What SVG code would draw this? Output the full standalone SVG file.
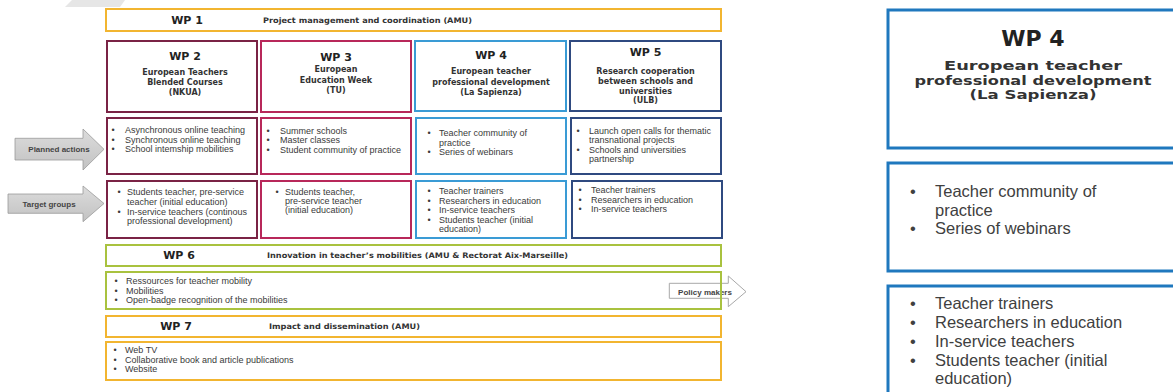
<svg xmlns="http://www.w3.org/2000/svg" width="1173" height="392" viewBox="0 0 1173 392">
<style>
.bx{fill:#fff;stroke-width:2}
.or{stroke:#F2B530}.mr{stroke:#7A2345}.cr{stroke:#B8285A}.bl{stroke:#3A9BD5}.nv{stroke:#2F4A80}.gr{stroke:#A9C23F}
.wp{font-family:"DejaVu Sans",Verdana,sans-serif;font-weight:bold;font-size:11px;fill:#222;text-anchor:middle}
.hd{font-family:"DejaVu Sans",Verdana,sans-serif;font-weight:bold;font-size:8px;fill:#333;text-anchor:middle}
.tt{font-family:"DejaVu Sans",Verdana,sans-serif;font-weight:bold;font-size:7.7px;fill:#333}
.li{font-family:"Liberation Sans",Arial,sans-serif;font-size:9px;fill:#3a3a3a}
.bu{text-anchor:middle}
.al{font-family:"Liberation Sans",Arial,sans-serif;font-weight:bold;font-size:8px;fill:#444;text-anchor:middle}
.rb{fill:#fff;stroke:#1F78BE;stroke-width:3}
.rwp{font-family:"DejaVu Sans",Verdana,sans-serif;font-weight:bold;font-size:22px;fill:#222;text-anchor:middle}
.rhd{font-family:"DejaVu Sans",Verdana,sans-serif;font-weight:bold;font-size:12.5px;fill:#333;text-anchor:middle}
.rli{font-family:"Liberation Sans",Arial,sans-serif;font-size:16.5px;fill:#404040}
</style>
<defs>
<linearGradient id="ga" x1="0" y1="0" x2="0" y2="1">
<stop offset="0" stop-color="#DCDCDC"/><stop offset="1" stop-color="#C2C2C2"/>
</linearGradient>
</defs>
<rect width="1173" height="392" fill="#fff"/>
<polygon points="72,0 125,0 120,7 65,7" fill="#E6E6E6"/>

<g id="wp1">
<rect class="bx or" x="106" y="9" width="615" height="22"/>
<text class="wp" x="187" y="24">WP 1</text>
<text class="tt" x="263" y="23" textLength="209" lengthAdjust="spacingAndGlyphs">Project management and coordination (AMU)</text>
</g>

<g id="wp2">
<rect class="bx mr" x="107" y="41" width="150" height="71"/>
<text class="wp" x="185" y="60">WP 2</text>
<text class="hd" x="185" y="74.5">European Teachers</text>
<text class="hd" x="185" y="85">Blended Courses</text>
<text class="hd" x="185" y="95">(NKUA)</text>
</g>
<g id="wp3">
<rect class="bx cr" x="261" y="41" width="150" height="71"/>
<text class="wp" x="336" y="61">WP 3</text>
<text class="hd" x="336" y="72">European</text>
<text class="hd" x="336" y="83">Education Week</text>
<text class="hd" x="336" y="92.5">(TU)</text>
</g>
<g id="wp4">
<rect class="bx bl" x="415" y="41" width="151" height="70"/>
<text class="wp" x="491" y="59">WP 4</text>
<text class="hd" x="491" y="74">European teacher</text>
<text class="hd" x="491" y="84.5">professional development</text>
<text class="hd" x="491" y="94.5">(La Sapienza)</text>
</g>
<g id="wp5">
<rect class="bx nv" x="570" y="41" width="151" height="70"/>
<text class="wp" x="645.5" y="56">WP 5</text>
<text class="hd" x="645.5" y="74">Research cooperation</text>
<text class="hd" x="645.5" y="84">between schools and</text>
<text class="hd" x="645.5" y="93.5">universities</text>
<text class="hd" x="645.5" y="102.5">(ULB)</text>
</g>

<g id="planned-actions">
<polygon points="15,138.3 83,138.3 83,129 104,149.3 83,170 83,160 15,160" fill="url(#ga)" stroke="#9A9A9A" stroke-width="0.8"/>
<text class="al" x="59" y="152">Planned actions</text>
</g>
<g id="target-groups">
<polygon points="8,194 83,194 83,186 104,203.5 83,221.7 83,213.3 8,213.3" fill="url(#ga)" stroke="#9A9A9A" stroke-width="0.8"/>
<text class="al" x="49" y="206.5">Target groups</text>
</g>

<g id="wp2-actions">
<rect class="bx mr" x="107" y="118" width="150" height="56"/>
<text class="li"><tspan class="bu" x="113" y="133">•</tspan><tspan x="125" y="133">Asynchronous online teaching</tspan>
<tspan class="bu" x="113" y="142.5">•</tspan><tspan x="125" y="142.5">Synchronous online teaching</tspan>
<tspan class="bu" x="113" y="152">•</tspan><tspan x="125" y="152">School intemship mobilities</tspan></text>
</g>
<g id="wp3-actions">
<rect class="bx cr" x="261" y="118" width="150" height="56"/>
<text class="li"><tspan class="bu" x="268" y="133.5">•</tspan><tspan x="280" y="133.5">Summer schools</tspan>
<tspan class="bu" x="268" y="143">•</tspan><tspan x="280" y="143">Master classes</tspan>
<tspan class="bu" x="268" y="152.5">•</tspan><tspan x="280" y="152.5">Student community of practice</tspan></text>
</g>
<g id="wp4-actions">
<rect class="bx bl" x="416" y="118" width="150" height="56"/>
<text class="li"><tspan class="bu" x="429" y="136">•</tspan><tspan x="439" y="136">Teacher community of</tspan>
<tspan x="439" y="145.5">practice</tspan>
<tspan class="bu" x="429" y="155">•</tspan><tspan x="439" y="155">Series of webinars</tspan></text>
</g>
<g id="wp5-actions">
<rect class="bx nv" x="571" y="118" width="150" height="56"/>
<text class="li"><tspan class="bu" x="578" y="133.5">•</tspan><tspan x="589" y="133.5">Launch open calls for thematic</tspan>
<tspan x="589" y="143">transnational projects</tspan>
<tspan class="bu" x="578" y="152.5">•</tspan><tspan x="589" y="152.5">Schools and universities</tspan>
<tspan x="589" y="161.5">partnership</tspan></text>
</g>

<g id="wp2-targets">
<rect class="bx mr" x="107" y="181" width="150" height="57"/>
<text class="li"><tspan class="bu" x="119" y="195">•</tspan><tspan x="127" y="195">Students teacher, pre-service</tspan>
<tspan x="127" y="205">teacher (initial education)</tspan>
<tspan class="bu" x="119" y="214.5">•</tspan><tspan x="127" y="214.5">In-service teachers (continous</tspan>
<tspan x="127" y="224">professional development)</tspan></text>
</g>
<g id="wp3-targets">
<rect class="bx cr" x="261" y="181" width="150" height="57"/>
<text class="li"><tspan class="bu" x="277" y="195">•</tspan><tspan x="285" y="195">Students teacher,</tspan>
<tspan x="285" y="204">pre-service teacher</tspan>
<tspan x="285" y="213">(initial education)</tspan></text>
</g>
<g id="wp4-targets">
<rect class="bx bl" x="416" y="181" width="150" height="57"/>
<text class="li"><tspan class="bu" x="429" y="194">•</tspan><tspan x="439" y="194">Teacher trainers</tspan>
<tspan class="bu" x="429" y="203.5">•</tspan><tspan x="439" y="203.5">Researchers in education</tspan>
<tspan class="bu" x="429" y="213">•</tspan><tspan x="439" y="213">In-service teachers</tspan>
<tspan class="bu" x="429" y="222.5">•</tspan><tspan x="439" y="222.5">Students teacher (initial</tspan>
<tspan x="439" y="232">education)</tspan></text>
</g>
<g id="wp5-targets">
<rect class="bx nv" x="572" y="181" width="150" height="57"/>
<text class="li"><tspan class="bu" x="580" y="193">•</tspan><tspan x="591" y="193">Teacher trainers</tspan>
<tspan class="bu" x="580" y="202.5">•</tspan><tspan x="591" y="202.5">Researchers in education</tspan>
<tspan class="bu" x="580" y="212">•</tspan><tspan x="591" y="212">In-service teachers</tspan></text>
</g>

<g id="wp6">
<rect class="bx gr" x="106" y="245" width="615" height="21"/>
<text class="wp" x="179" y="259">WP 6</text>
<text class="tt" x="267" y="258" textLength="301" lengthAdjust="spacingAndGlyphs">Innovation in teacher’s mobilities (AMU &amp; Rectorat Aix-Marseille)</text>
</g>
<g id="policy-makers">
<polygon points="669.3,283.3 728.3,283.3 728.3,276 746,291.7 728.3,306.7 728.3,298.3 669.3,298.3" fill="#fff" stroke="#A8A8A8" stroke-width="1"/>
<text class="al" x="705" y="294.5">Policy makers</text>
</g>
<g id="wp6-content">
<rect x="106" y="272" width="615" height="37" fill="none" stroke="#A9C23F" stroke-width="2"/>
<text class="li"><tspan class="bu" x="116" y="284">•</tspan><tspan x="126" y="284">Ressources for teacher mobility</tspan>
<tspan class="bu" x="116" y="293.5">•</tspan><tspan x="126" y="293.5">Mobilities</tspan>
<tspan class="bu" x="116" y="303">•</tspan><tspan x="126" y="303">Open-badge recognition of the mobilities</tspan></text>
</g>

<g id="wp7">
<rect class="bx or" x="106" y="316" width="615" height="21"/>
<text class="wp" x="176" y="330">WP 7</text>
<text class="tt" x="269" y="329" textLength="151" lengthAdjust="spacingAndGlyphs">Impact and dissemination (AMU)</text>
</g>
<g id="wp7-content">
<rect class="bx or" x="106" y="342" width="615" height="38"/>
<text class="li"><tspan class="bu" x="115" y="353">•</tspan><tspan x="125" y="353">Web TV</tspan>
<tspan class="bu" x="115" y="362.5">•</tspan><tspan x="125" y="362.5">Collaborative book and article publications</tspan>
<tspan class="bu" x="115" y="372">•</tspan><tspan x="125" y="372">Website</tspan></text>
</g>

<g id="wp4-detail">
<rect class="rb" x="888" y="10" width="300" height="138"/>
<text class="rwp" x="1033" y="46">WP 4</text>
<text class="rhd" x="1033" y="69.5" textLength="178" lengthAdjust="spacingAndGlyphs">European teacher</text>
<text class="rhd" x="1033" y="84.5" textLength="237" lengthAdjust="spacingAndGlyphs">professional development</text>
<text class="rhd" x="1033" y="99" textLength="127" lengthAdjust="spacingAndGlyphs">(La Sapienza)</text>
</g>
<g id="wp4-detail-actions">
<rect class="rb" x="888" y="163" width="300" height="108"/>
<text class="rli"><tspan class="bu" x="913" y="197">•</tspan><tspan x="935" y="197">Teacher community of</tspan>
<tspan x="935" y="215.5">practice</tspan>
<tspan class="bu" x="913" y="234">•</tspan><tspan x="935" y="234">Series of webinars</tspan></text>
</g>
<g id="wp4-detail-targets">
<rect class="rb" x="888" y="286" width="300" height="120"/>
<text class="rli"><tspan class="bu" x="913" y="309">•</tspan><tspan x="935" y="309">Teacher trainers</tspan>
<tspan class="bu" x="913" y="328">•</tspan><tspan x="935" y="328">Researchers in education</tspan>
<tspan class="bu" x="913" y="346.5">•</tspan><tspan x="935" y="346.5">In-service teachers</tspan>
<tspan class="bu" x="913" y="365.5">•</tspan><tspan x="935" y="365.5">Students teacher (initial</tspan>
<tspan x="935" y="384">education)</tspan></text>
</g>
<g id="connectors"></g>
</svg>
